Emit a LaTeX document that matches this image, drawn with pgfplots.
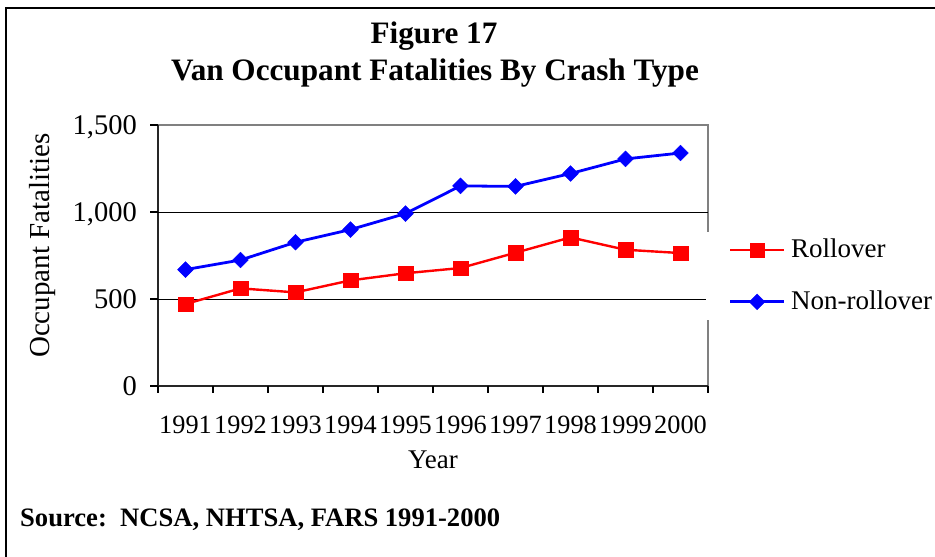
\documentclass[border=0pt]{standalone}
\usepackage{pgfplots}
\pgfplotsset{compat=1.18}
\usepackage{fontspec}
\setmainfont{Liberation Serif}

\pgfplotstableread{
x year roll nonroll
0 1991 471 669
1 1992 561 724
2 1993 538 826
3 1994 607 899
4 1995 648 991
5 1996 678 1150
6 1997 766 1147
7 1998 854 1221
8 1999 783 1305
9 2000 764 1339
}\vandata

\begin{document}
\begin{tikzpicture}[x=1pt,y=1pt]
\useasboundingbox (0,0) rectangle (935,557);
% outer frame
\draw[line width=1.3pt, black] (6,-5) -- (6,549) -- (940,549);
% plot area frame
\draw[line width=2pt, gray] (158,432) -- (708,432) -- (708,171);
\draw[line width=1.8pt, black!85] (158,432) -- (158,171) -- (708,171);

\begin{axis}[
  at={(158pt,171pt)}, anchor=south west,
  scale only axis, width=550pt, height=261pt,
  xmin=-0.5, xmax=9.5, ymin=0, ymax=1500,
  axis line style={draw=none},
  tick pos=left, tick align=outside,
  major tick length=8pt, minor tick length=7pt,
  tick style={black, line width=1.1pt},
  xtick={0,...,9},
  xticklabels={1991,1992,1993,1994,1995,1996,1997,1998,1999,2000},
  minor xtick={-0.5,0.5,...,9.5},
  major x tick style={draw=none},
  ytick={0,500,1000,1500},
  yticklabels={0,500,{1,000},{1,500}},
  extra y ticks={500,1000},
  extra y tick labels={},
  extra y tick style={grid=major, major tick style={draw=none}},
  grid style={black, line width=0.9pt},
  xticklabel style={font=\fontsize{26.3}{30}\selectfont, anchor=base, inner sep=0pt, yshift=-39pt},
  yticklabel style={font=\fontsize{28.5}{33}\selectfont, anchor=base east, inner sep=0pt, xshift=-13pt, yshift=-9.6pt},
  legend style={at={(0.9964,0.591)}, anchor=north west, fill=white, draw=none,
    inner xsep=22.5pt, inner ysep=6pt, row sep=27pt,
    font=\fontsize{27}{30}\selectfont,
    nodes={inner xsep=5.5pt, inner ysep=0pt, text height=20pt, text depth=4.6pt}},
  legend cell align=left,
  legend image code/.code={\draw[mark repeat=2,mark phase=2,#1] plot coordinates {(0pt,0pt) (27pt,0pt) (54pt,0pt)};},
]
\addplot[color=red, line width=2.4pt, mark=square*, mark size=7.3pt,
  mark options={solid, fill=red, draw=red, line width=0.4pt}] table[x=x, y=roll] {\vandata};
\addlegendentry{Rollover}
\addplot[color=blue, line width=2.8pt, mark=square*, mark size=5.6pt,
  mark options={solid, rotate=45, fill=blue, draw=blue, line width=0.4pt}] table[x=x, y=nonroll] {\vandata};
\addlegendentry{Non-rollover}
\end{axis}

\node[anchor=base, inner sep=0pt, font=\bfseries\fontsize{31.2}{36}\selectfont] at (434,513) {Figure 17};
\node[anchor=base, inner sep=0pt, font=\bfseries\fontsize{31.2}{36}\selectfont] at (435,476) {Van Occupant Fatalities By Crash Type};
\node[anchor=base, inner sep=0pt, font=\fontsize{27}{30}\selectfont] at (433,88) {Year};
\node[rotate=90, anchor=base, inner sep=0pt, font=\fontsize{29}{33}\selectfont] at (49.5,311.5) {Occupant Fatalities};
\node[anchor=base west, inner sep=0pt, font=\bfseries\fontsize{26.6}{30}\selectfont] at (20,30.3) {Source:\ \ NCSA, NHTSA, FARS 1991-2000};
\end{tikzpicture}
\end{document}
